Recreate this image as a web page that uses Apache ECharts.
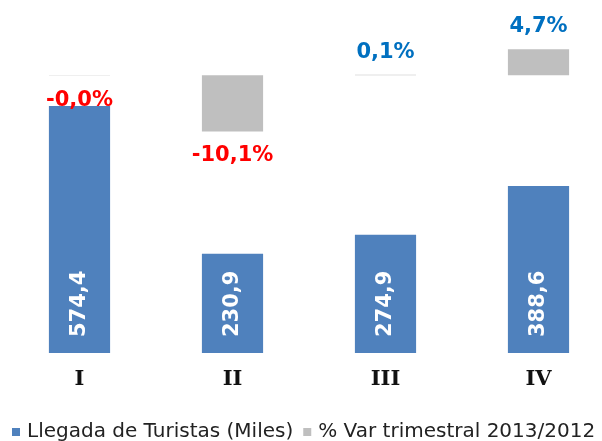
<!DOCTYPE html>
<html>
<head>
<meta charset="utf-8">
<script src="https://cdn.jsdelivr.net/npm/echarts@6/dist/echarts.min.js"></script>
<style>
  html, body { margin: 0; padding: 0; background: #fff; }
  #chart { width: 602px; height: 441px; }
</style>
</head>
<body>
<div id="chart"></div>
<script>
// datos por trimestre
const quarters = ['I', 'II', 'III', 'IV'];
const arrivals = [574.4, 230.9, 274.9, 388.6];
const varPct = [-0.04, -10.1, 0.1, 4.7];
const seriesNames = ['Llegada de Turistas (Miles)', '% Var trimestral 2013/2012'];

const fmt = (v) => v.toFixed(1).replace('.', ',');

const chart = echarts.init(document.getElementById('chart'));
chart.setOption({
  animation: false,
  legend: {
    left: 7,
    top: 417,
    itemWidth: 8,
    itemHeight: 8,
    itemGap: 10,
    icon: 'rect',
    textStyle: { fontFamily: 'DejaVu Sans', fontSize: 20, color: '#222', padding: [0, 0, 0, 2] },
    data: seriesNames,
  },
  grid: [
    { left: 3, width: 612, top: 95, bottom: 88, outerBoundsMode: 'none', containLabel: false },
    { left: 3, width: 612, top: 42, bottom: 299, outerBoundsMode: 'none', containLabel: false },
  ],
  xAxis: [
    {
      type: 'category', gridIndex: 0, data: quarters,
      axisLine: { show: false }, axisTick: { show: false },
      axisLabel: { margin: 16, fontFamily: 'DejaVu Serif', fontWeight: 'bold', fontSize: 21, color: '#111' },
    },
    { type: 'category', gridIndex: 1, data: quarters, show: false },
  ],
  yAxis: [
    { type: 'value', gridIndex: 0, min: 0, max: 600, show: false, splitLine: { show: false } },
    { type: 'value', gridIndex: 1, min: -12, max: 6, show: false, splitLine: { show: false } },
  ],
  series: [
    {
      name: seriesNames[0], type: 'bar', xAxisIndex: 0, yAxisIndex: 0,
      barWidth: '40%',
      itemStyle: { color: '#4F81BD' },
      label: {
        show: true, position: 'insideBottom', rotate: 90, align: 'left', verticalAlign: 'middle',
        distance: 16, color: '#fff', fontFamily: 'DejaVu Sans', fontWeight: 'bold', fontSize: 21,
        formatter: (p) => fmt(p.value),
      },
      data: arrivals,
    },
    {
      name: seriesNames[1], type: 'bar', xAxisIndex: 1, yAxisIndex: 1,
      barWidth: '40%',
      itemStyle: { color: '#BFBFBF' },
      label: {
        show: true, fontFamily: 'DejaVu Sans', fontWeight: 'bold', fontSize: 21,
        formatter: (p) => fmt(p.value) + '%',
      },
      // negativos en rojo debajo, positivos en azul encima
      data: varPct.map((v) => ({
        value: v,
        label: {
          position: v < 0 ? 'bottom' : 'top',
          distance: v < 0 ? 14 : 12,
          color: v < 0 ? '#FF0000' : '#0070C0',
        },
      })),
    },
  ],
});
</script>
</body>
</html>
